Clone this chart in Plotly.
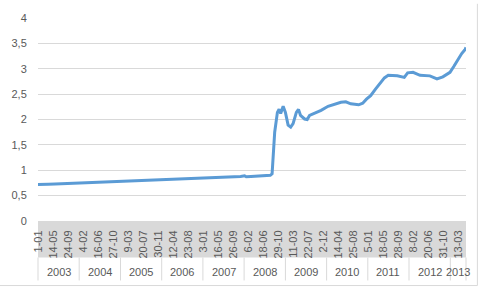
import plotly.graph_objects as go
import pandas as pd

# ---- data ----
dates = [
    "2003-01-01", "2003-02-15", "2003-04-01", "2003-06-01", "2003-08-01", "2003-10-01", "2003-12-01",
    "2004-02-01", "2004-04-01", "2004-06-01", "2004-08-01", "2004-10-01", "2004-12-01",
    "2005-02-01", "2005-04-01", "2005-06-01", "2005-08-01", "2005-10-01", "2005-12-01",
    "2006-02-01", "2006-04-01", "2006-06-01", "2006-08-01", "2006-10-01", "2006-12-01",
    "2007-02-01", "2007-04-01", "2007-06-01", "2007-08-01", "2007-10-01", "2007-12-01",
    "2008-01-05", "2008-01-20", "2008-03-01", "2008-05-01", "2008-07-01", "2008-08-20",
    "2008-09-05", "2008-09-15", "2008-09-28", "2008-10-22", "2008-11-06", "2008-11-20",
    "2008-12-12", "2009-01-01", "2009-01-25", "2009-02-17", "2009-03-10", "2009-04-08",
    "2009-04-27", "2009-05-15", "2009-06-20", "2009-07-13", "2009-08-03", "2009-09-13",
    "2009-11-13", "2010-01-14", "2010-03-07", "2010-05-08", "2010-06-20", "2010-08-03",
    "2010-10-12", "2010-11-17", "2010-12-20", "2011-01-26", "2011-03-10", "2011-04-22",
    "2011-05-28", "2011-07-01", "2011-09-19", "2011-11-20", "2011-12-20", "2012-02-06",
    "2012-04-08", "2012-07-04", "2012-09-05", "2012-10-27", "2012-12-29", "2013-02-02",
    "2013-02-28", "2013-04-12", "2013-05-12", "2013-05-20",
]
values = [
    0.72, 0.715, 0.725, 0.73, 0.735, 0.74, 0.745,
    0.75, 0.755, 0.76, 0.765, 0.77, 0.775,
    0.785, 0.79, 0.795, 0.80, 0.80, 0.805,
    0.81, 0.815, 0.825, 0.83, 0.83, 0.835,
    0.845, 0.85, 0.855, 0.86, 0.865, 0.875,
    0.89, 0.87, 0.875, 0.88, 0.885, 0.90,
    0.93, 1.30, 1.75, 2.14, 2.20, 2.12,
    2.26, 2.14, 1.89, 1.85, 1.92, 2.14,
    2.20, 2.08, 2.01, 2.00, 2.08, 2.12,
    2.18, 2.26, 2.30, 2.34, 2.35, 2.31,
    2.29, 2.32, 2.40, 2.47, 2.60, 2.72,
    2.82, 2.87, 2.86, 2.83, 2.92, 2.93,
    2.87, 2.86, 2.80, 2.84, 2.93, 3.05,
    3.15, 3.30, 3.38, 3.42,
]

tick_dates = [
    "2003-01-01", "2003-05-14", "2003-09-24", "2004-02-04", "2004-06-16", "2004-10-27",
    "2005-03-09", "2005-07-20", "2005-11-30", "2006-04-12", "2006-08-23", "2007-01-03",
    "2007-05-16", "2007-09-26", "2008-02-06", "2008-06-18", "2008-10-29", "2009-03-11",
    "2009-07-22", "2009-12-02", "2010-04-14", "2010-08-25", "2011-01-05", "2011-05-18",
    "2011-09-28", "2012-02-08", "2012-06-20", "2012-10-31", "2013-03-13",
]
tick_labels = [
    "1-01", "14-05", "24-09", "4-02", "16-06", "27-10", "9-03", "20-07", "30-11", "12-04",
    "23-08", "3-01", "16-05", "26-09", "6-02", "18-06", "29-10", "11-03", "22-07", "2-12",
    "14-04", "25-08", "5-01", "18-05", "28-09", "8-02", "20-06", "31-10", "13-03",
]
years = [2003, 2004, 2005, 2006, 2007, 2008, 2009, 2010, 2011, 2012, 2013]
y_ticks = [0, 0.5, 1, 1.5, 2, 2.5, 3, 3.5, 4]

# ---- figure ----
GRAY_TXT = "#595959"
GRID = "#d9d9d9"
FONT = "Liberation Sans"

fig = go.Figure(go.Scatter(
    x=dates, y=values, mode="lines",
    line=dict(color="#5B9BD5", width=3),
    hoverinfo="skip",
))

start = pd.Timestamp(dates[0])
end = pd.Timestamp(dates[-1])

# plot-area geometry in paper units (plot height 207 px)
band_bot = -0.180
sep_bot = -0.293
year_y = -0.249

shapes = [
    # gray band behind date labels
    dict(type="rect", xref="paper", yref="paper", x0=0, x1=1, y0=band_bot, y1=0,
         fillcolor="#d9d9d9", line_width=0, layer="below"),
    # outer chart border (right / bottom)
    dict(type="line", xref="paper", yref="paper", x0=1.0266, x1=1.0266, y0=-0.318, y1=1.07,
         line=dict(color=GRID, width=1)),
    dict(type="line", xref="paper", yref="paper", x0=-0.1, x1=1.0266, y0=-0.318, y1=-0.318,
         line=dict(color=GRID, width=1)),
    # edge separators of the year row
    dict(type="line", xref="paper", yref="paper", x0=0, x1=0, y0=band_bot, y1=sep_bot,
         line=dict(color=GRID, width=1)),
    dict(type="line", xref="paper", yref="paper", x0=1, x1=1, y0=band_bot, y1=sep_bot,
         line=dict(color=GRID, width=1)),
]
annotations = []
for yr in years:
    y0 = max(pd.Timestamp(f"{yr}-01-01"), start)
    y1 = min(pd.Timestamp(f"{yr + 1}-01-01"), end)
    if yr != years[0]:
        shapes.append(dict(type="line", xref="x", yref="paper", x0=y0, x1=y0,
                           y0=band_bot, y1=sep_bot, line=dict(color=GRID, width=1)))
    mid = y0 + (y1 - y0) / 2
    annotations.append(dict(x=mid, xref="x", y=year_y, yref="paper", text=str(yr),
                            showarrow=False, font=dict(size=11, color=GRAY_TXT, family=FONT),
                            xanchor="center", yanchor="middle"))

fig.update_layout(
    width=480, height=288,
    margin=dict(l=34, r=14, t=14, b=67),
    paper_bgcolor="white", plot_bgcolor="white",
    separators=", ",
    showlegend=False,
    font=dict(family=FONT, size=11, color=GRAY_TXT),
    shapes=shapes,
    annotations=annotations,
    xaxis=dict(
        type="date", range=[start, end],
        tickmode="array", tickvals=tick_dates, ticktext=tick_labels,
        tickangle=-90, showgrid=False, zeroline=False, showline=False,
        ticks="outside", ticklen=4, tickcolor="rgba(0,0,0,0)",
        tickfont=dict(size=11, color=GRAY_TXT, family=FONT),
    ),
    yaxis=dict(
        range=[0, 4], tickmode="array", tickvals=y_ticks,
        showgrid=True, gridcolor=GRID, gridwidth=1, zeroline=False, showline=False,
        ticks="outside", ticklen=8, tickcolor="rgba(0,0,0,0)",
        tickfont=dict(size=11, color=GRAY_TXT, family=FONT),
    ),
)

fig.write_html("out.html")
